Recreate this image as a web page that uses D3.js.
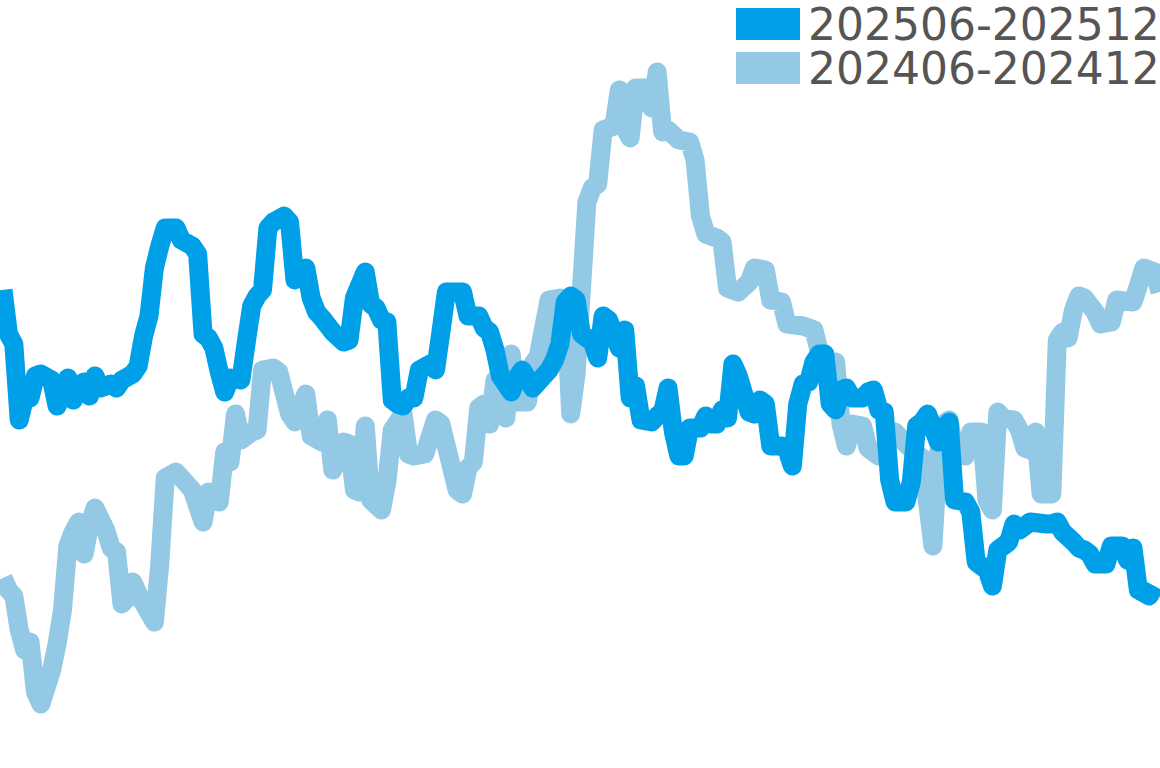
<!DOCTYPE html>
<html>
<head>
<meta charset="utf-8">
<script src="https://cdn.jsdelivr.net/npm/d3@7"></script>
<style>
  html, body { margin: 0; padding: 0; background: #ffffff; overflow: hidden; }
  svg { display: block; }
</style>
</head>
<body>
<svg id="chart" width="1160" height="768"></svg>
<script>
// Series names (legend labels)
const seriesNames = ["202506-202512", "202406-202412"];

// 202506-202512 : day offset within period, value
const recentDays = [0,1,2,3,4,5,6,7,9,10,11,12,13,14,15,16,17,18,20,21,22,24,25,26,27,28,29,30,32,33,35,36,37,38,39,40,41,42,44,45,46,47,48,49,50,52,53,54,56,57,58,59,61,63,64,65,67,68,69,70,71,72,73,74,75,76,77,79,80,81,82,85,86,88,89,90,91,92,94,95,96,98,99,101,102,103,104,105,106,107,109,110,111,112,114,115,116,117,118,120,121,122,123,124,125,126,127,129,130,131,132,133,134,135,136,138,139,140,141,142,144,145,146,147,148,149,150,151,152,153,154,155,156,157,159,160,161,162,163,164,165,167,168,169,170,171,172,173,174,175,176,178,179,180,182,183,184,186,187,188,190,193,194,195,196,198,199,200,201,202,204,205,207,208,209,210,212,213];
const recentValues = [239,217,212,174,185,185,196,197,194,181,187,195,184,191,193,186,196,190,192,190,194,197,201,216,226,250,261,270,270,264,261,257,217,215,210,198,188,195,194,213,231,236,239,270,273,276,273,244,250,235,228,225,218,213,214,235,248,232,230,224,223,184,182,181,185,185,199,202,199,218,238,238,226,226,220,218,209,196,188,195,199,190,193,199,204,212,233,236,234,217,213,205,226,224,210,219,185,191,174,173,176,178,190,168,156,156,170,170,176,172,172,179,175,202,196,178,177,184,182,161,161,159,151,182,192,193,203,207,207,182,179,189,190,185,185,188,189,179,178,144,133,133,143,171,173,177,170,163,170,173,134,133,128,103,99,91,109,113,122,119,123,122,122,123,118,113,110,109,107,102,102,111,111,104,110,89,86,91];

// 202406-202412 : day offset within period, value
const priorDays = [0,1,2,3,4,5,6,7,9,10,11,12,13,14,15,16,17,19,20,21,22,23,24,25,28,29,30,32,34,35,37,38,40,41,42,43,44,46,47,48,50,51,53,54,56,57,59,60,61,63,64,65,66,67,68,70,71,72,74,75,76,78,80,81,82,84,85,86,87,88,89,90,91,92,93,94,95,97,98,99,101,103,104,105,106,108,109,110,111,113,114,115,116,117,119,120,121,122,123,125,127,128,129,130,132,133,134,136,138,139,141,142,144,145,148,150,151,152,153,154,155,156,157,159,160,162,165,167,169,170,172,173,174,175,176,178,179,181,182,183,184,185,187,188,189,190,191,192,194,195,196,197,198,199,200,202,203,205,206,209,210,211,213,214];
const priorValues = [95,89,86,69,59,63,38,32,49,62,79,111,118,123,107,121,130,119,110,108,82,85,93,87,73,102,145,148,142,139,123,138,133,158,153,177,164,168,169,199,200,198,177,173,187,166,163,174,149,163,162,139,138,171,134,129,143,169,177,157,156,157,174,172,161,139,137,150,153,180,182,172,194,186,175,207,183,183,202,206,234,235,234,177,197,283,290,292,319,321,339,320,315,340,340,330,348,318,319,314,313,304,276,267,265,263,240,238,243,250,249,234,233,222,221,219,208,198,201,203,172,161,172,171,160,156,168,162,157,155,111,157,172,174,157,156,168,168,134,129,178,175,174,169,160,159,168,137,137,214,218,215,229,236,235,228,222,223,234,233,241,250,248,238];

const colors = ["#00a0e9", "#93c9e4"];

const width = 1160, height = 768;
const svg = d3.select("#chart");

const x = d3.scaleLinear().domain([0, 214]).range([3, 1160]);
const y = d3.scaleLinear().domain([0, 384]).range([height, 0]);

const line = d3.line()
  .x(d => x(d[0]))
  .y(d => y(d[1]))
  .curve(d3.curveLinear);

const recent = recentDays.map((d, i) => [d, recentValues[i]]);
const prior = priorDays.map((d, i) => [d, priorValues[i]]);

const strokeW = 19;

// draw prior (light) first, recent on top
svg.append("path")
  .datum(prior)
  .attr("d", line)
  .attr("fill", "none")
  .attr("stroke", colors[1])
  .attr("stroke-width", strokeW)
  .attr("stroke-linejoin", "round")
  .attr("stroke-linecap", "butt");

svg.append("path")
  .datum(recent)
  .attr("d", line)
  .attr("fill", "none")
  .attr("stroke", colors[0])
  .attr("stroke-width", strokeW)
  .attr("stroke-linejoin", "round")
  .attr("stroke-linecap", "butt");

// legend
const legend = svg.append("g").attr("transform", "translate(736,8)");
seriesNames.forEach((name, i) => {
  const g = legend.append("g").attr("transform", `translate(0,${i * 44})`);
  g.append("rect")
    .attr("x", 0).attr("y", 0)
    .attr("width", 64).attr("height", 32)
    .attr("fill", colors[i]);
  g.append("text")
    .attr("x", 72).attr("y", 31.5)
    .attr("font-family", "DejaVu Sans, sans-serif")
    .attr("font-size", 44)
    .attr("fill", "#555555")
    .text(name);
});
</script>
</body>
</html>
